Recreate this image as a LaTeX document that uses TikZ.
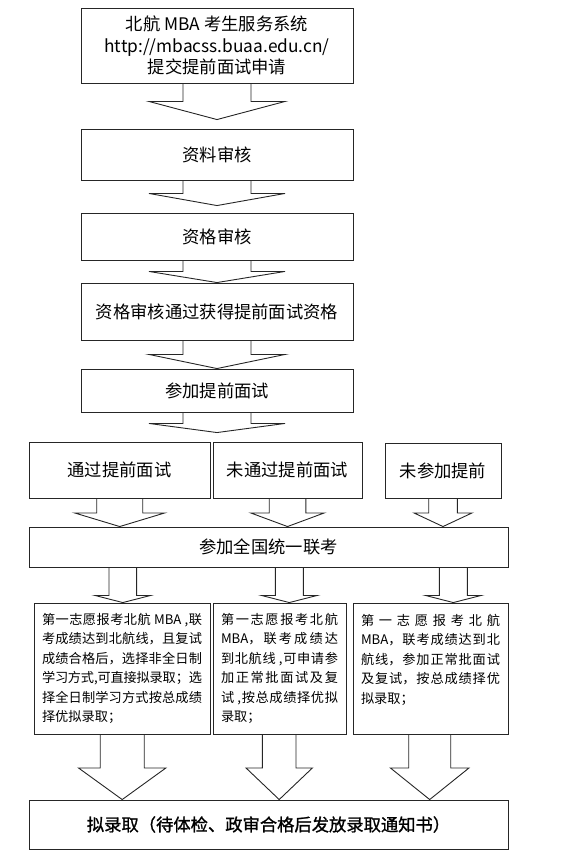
\documentclass[tikz,border=0pt]{standalone}
\usepackage{fontspec}
\setmainfont{Noto Sans CJK SC}
\newfontfamily\heavycjk{Noto Sans CJK SC}[FakeBold=1.2]
\usetikzlibrary{calc}
\XeTeXlinebreaklocale "zh"
\XeTeXlinebreakskip=0pt plus 3pt minus 1pt

% block arrow: src, dst, x, shaft half width, head half width, drop, gap
\newcommand{\blockarrow}[7]{%
  \coordinate (ax) at (#3,0);
  \draw[blk] ($(#1.south -| ax)+(-#4,0)$) -- ++(0,#6)
    -- ($(#1.south -| ax)+(-#5,#6)$) -- ($(#2.north -| ax)+(0,-#7)$)
    -- ($(#1.south -| ax)+(#5,#6)$) -- ($(#1.south -| ax)+(#4,#6)$) -- ++(0,-#6);}

\begin{document}
\begin{tikzpicture}[x=1pt,y=-1pt,
  box/.style={draw=black!85,line width=.9pt,inner sep=0pt,align=center,font=\fontsize{17.3}{21.7}\selectfont},
  note/.style={draw=black!85,line width=.9pt,inner xsep=8pt,inner ysep=0pt,align=justify,font=\fontsize{13.2}{19.5}\selectfont},
  blk/.style={draw=black!85,line width=.9pt,line join=miter}]
\useasboundingbox (0,0) rectangle (562,860);
% main column
\node[box,minimum width=272pt,minimum height=75pt] (apply) at (217,45.5) {北航 MBA 考生服务系统\\http://mbacss.buaa.edu.cn/\\提交提前面试申请};
\node[box,minimum width=272pt,minimum height=51pt] (docs) at (217,154.5) {资料审核};
\node[box,minimum width=272pt,minimum height=47pt] (qual) at (217,236.5) {资格审核};
\node[box,minimum width=272pt,minimum height=57pt] (qualok) at (217,311.5) {资格审核通过获得提前面试资格};
\node[box,minimum width=272pt,minimum height=43pt] (early) at (217,390.5) {参加提前面试};
% three outcomes
\node[box,minimum width=181pt,minimum height=56pt] (passed) at (119.5,470) {通过提前面试};
\node[box,minimum width=149pt,minimum height=56pt] (failed) at (287.5,470) {未通过提前面试};
\node[box,minimum width=116pt,minimum height=55pt] (absent) at (443,470.5) {未参加提前};
\node[box,minimum width=479pt,minimum height=40pt] (exam) at (268.5,547) {参加全国统一联考};
% admission rules
\node[note,text width=160pt,minimum height=131pt] (rulea) at (122,668.5) {第一志愿报考北航 MBA ,联\linebreak 考成绩达到北航线，且复试\linebreak 成绩合格后，选择非全日制\linebreak 学习方式,可直接拟录取；选\linebreak 择全日制学习方式按总成绩\linebreak 择优拟录取；};
\node[note,text width=117pt,minimum height=131pt] (ruleb) at (279.5,668.5) {第一志愿报考北航\linebreak MBA，联考成绩达\linebreak 到北航线 ,可申请参\linebreak 加正常批面试及复\linebreak 试 ,按总成绩择优拟\linebreak 录取；};
\node[note,text width=139pt,minimum height=131pt] (rulec) at (430.5,668.5) {第一志愿报考北航\linebreak MBA，联考成绩达到北\linebreak 航线，参加正常批面试\linebreak 及复试，按总成绩择优\linebreak 拟录取；\\ \mbox{}};
\node[box,minimum width=479pt,minimum height=49pt,font=\fontsize{17.3}{21.7}\selectfont\heavycjk] (admit) at (268.5,824.5) {拟录取（待体检、政审合格后发放录取通知书）};
% arrows
\blockarrow{apply}{docs}{217}{34}{68}{18}{9}
\blockarrow{docs}{qual}{217}{34}{68}{13}{7}
\blockarrow{qual}{qualok}{217}{34}{68}{11}{0}
\blockarrow{qualok}{early}{217}{34}{68}{14}{0}
\blockarrow{early}{failed}{217}{34}{68}{11}{9}
\blockarrow{passed}{exam}{119.7}{23}{45}{14.5}{0}
\blockarrow{failed}{exam}{287.5}{18.3}{36.7}{14.5}{0}
\blockarrow{absent}{exam}{443}{14.3}{29}{14.5}{0}
\blockarrow{exam}{rulea}{122.8}{13.8}{27.8}{28}{0}
\blockarrow{exam}{ruleb}{289.3}{14}{27.8}{28}{0}
\blockarrow{exam}{rulec}{453.3}{14}{27.8}{28}{0}
\blockarrow{rulea}{admit}{122.2}{22}{43.7}{33.5}{0}
\blockarrow{ruleb}{admit}{279.2}{16.8}{33.2}{33.5}{0}
\blockarrow{rulec}{admit}{429.7}{21}{39.3}{33.5}{0}
\end{tikzpicture}
\end{document}
